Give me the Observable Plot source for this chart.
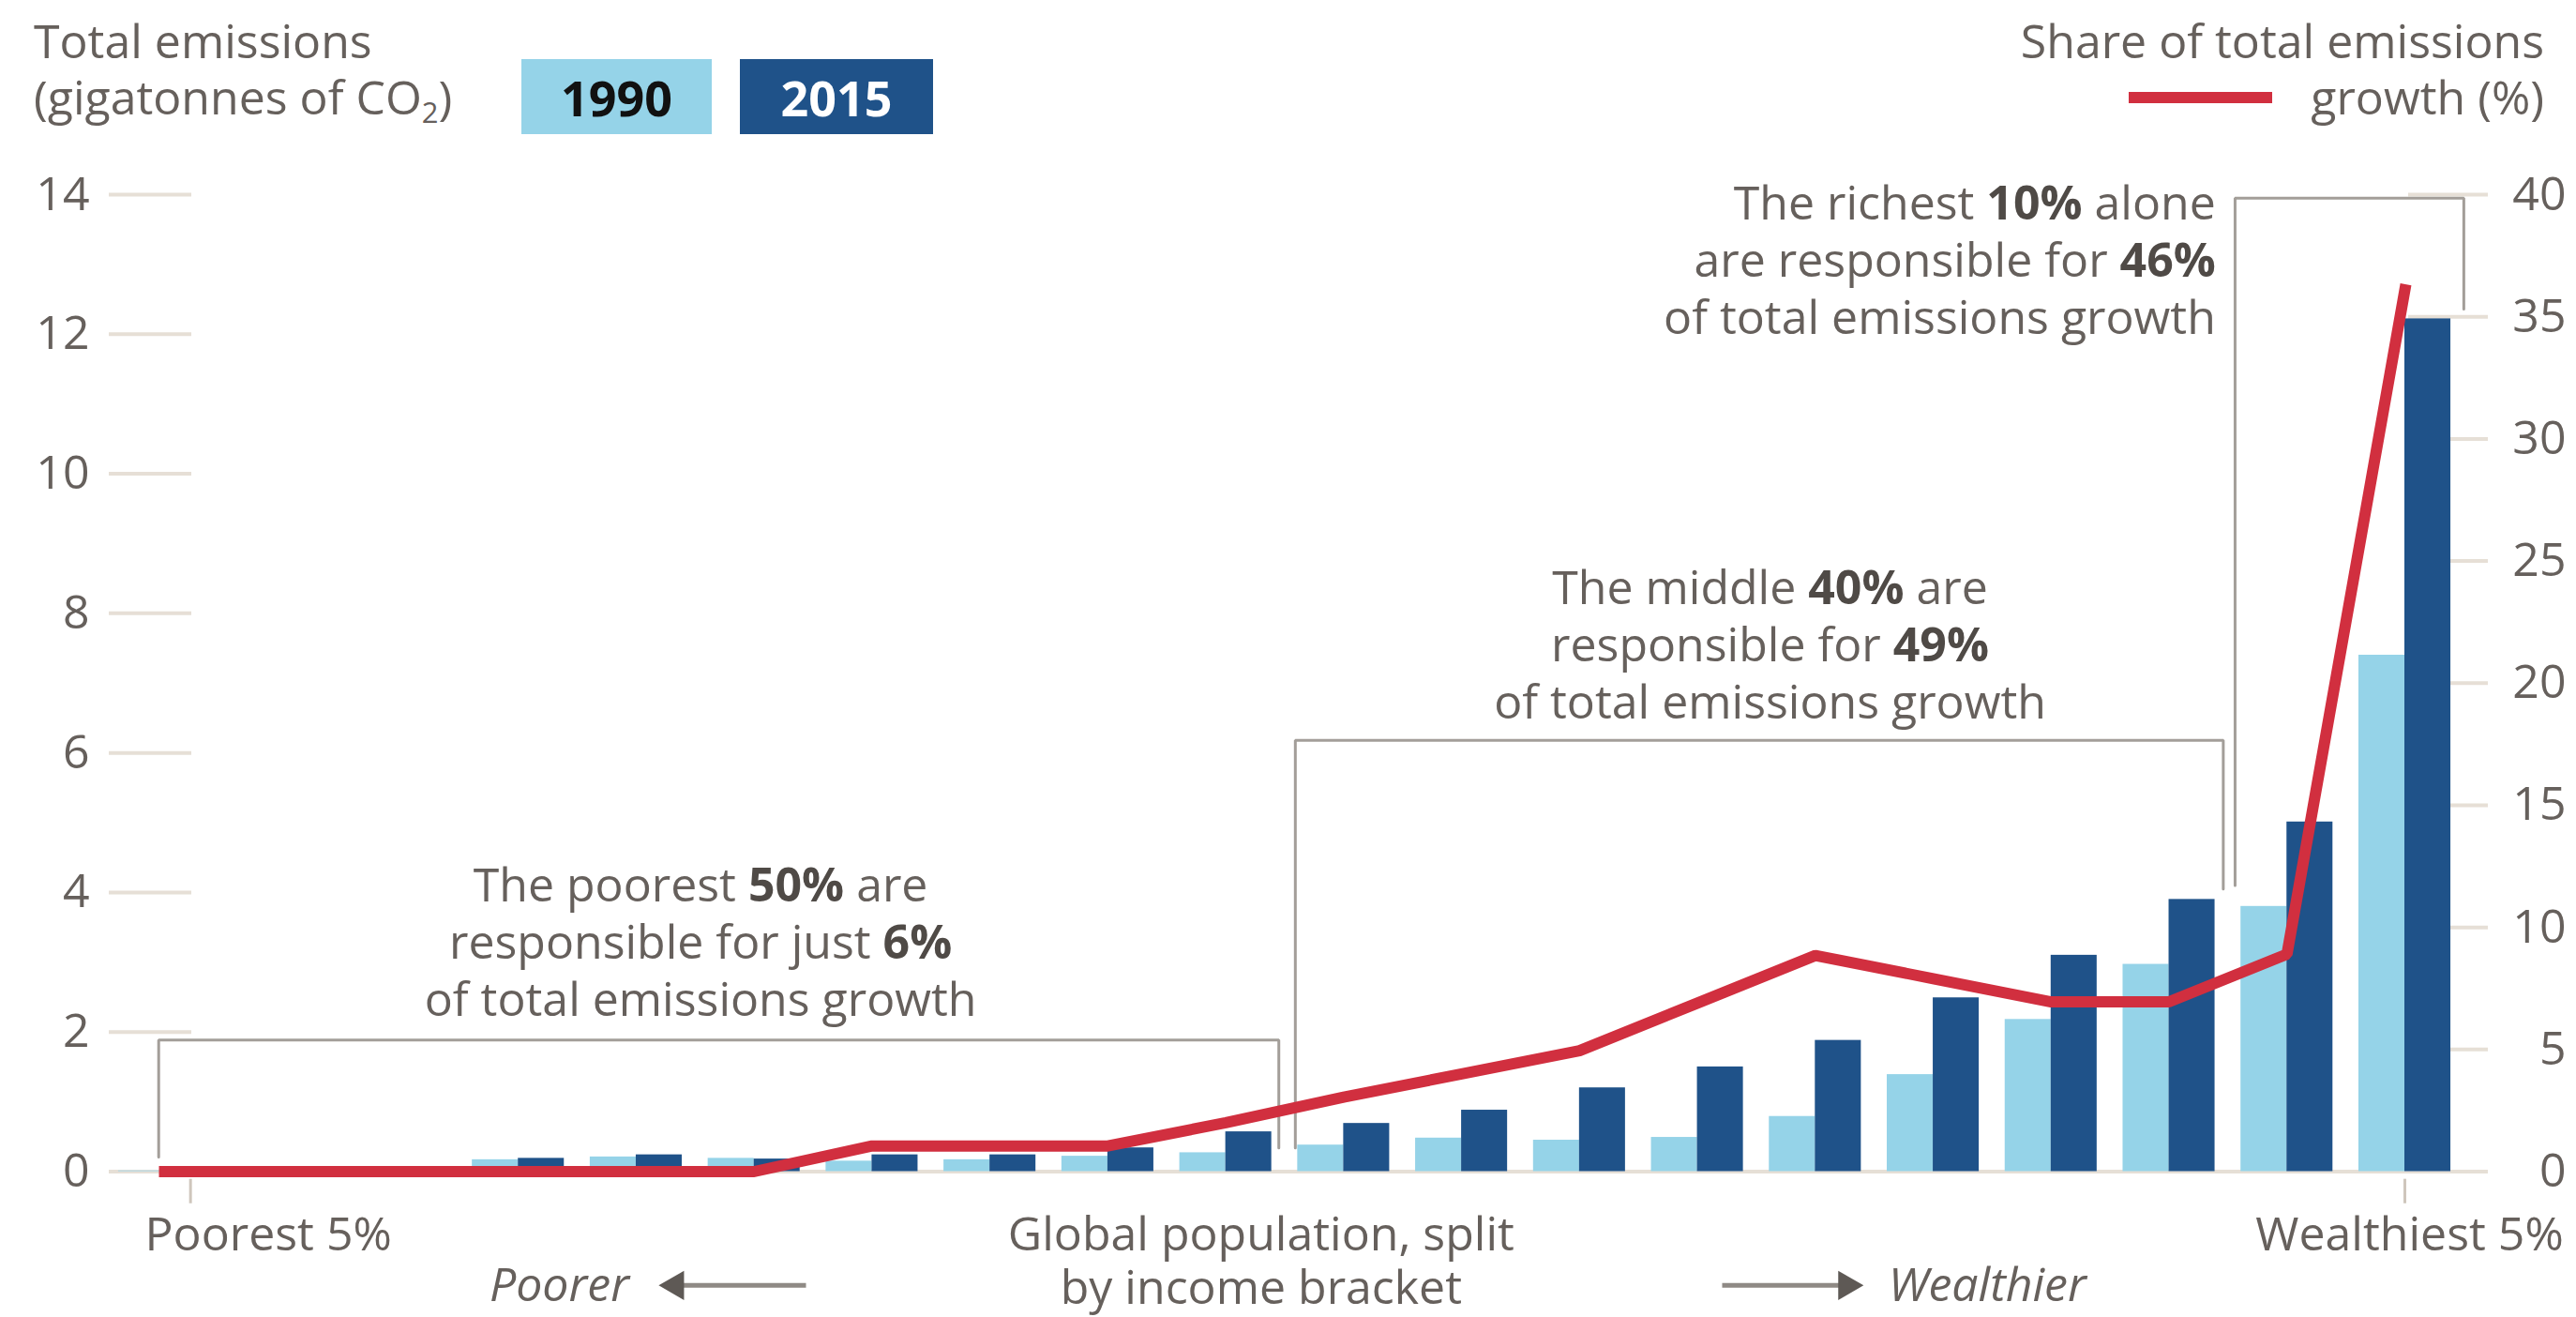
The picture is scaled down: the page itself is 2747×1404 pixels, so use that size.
<!DOCTYPE html>
<html><head><meta charset="utf-8">
<script src="https://cdn.jsdelivr.net/npm/d3@7"></script>
<script src="https://cdn.jsdelivr.net/npm/@observablehq/plot@0.6"></script>
<style>
html,body{margin:0;padding:0;background:#fff;}
#wrap{position:relative;width:2747px;height:1404px;overflow:hidden;font-family:"Open Sans",sans-serif;color:#66605c;}
#wrap svg{position:absolute;left:0;top:0;}
.hd{position:absolute;font-size:50px;line-height:60px;height:60px;white-space:nowrap;}
.box{position:absolute;top:63px;height:80px;display:flex;align-items:center;justify-content:center;font-weight:700;font-size:52px;}
sub{font-size:0.62em;line-height:0;vertical-align:-0.28em;}
</style></head><body><div id="wrap">
<div class="hd" style="left:36px;top:13px;">Total emissions</div>
<div class="hd" style="left:36px;top:73px;">(gigatonnes of CO<sub>2</sub>)</div>
<div class="box" style="left:556px;width:203px;background:#95d3e8;color:#111;">1990</div>
<div class="box" style="left:789px;width:206px;background:#1f5289;color:#fff;">2015</div>
<div class="hd" style="right:34px;top:13px;text-align:right;">Share of total emissions</div>
<div class="hd" style="right:34px;top:73px;text-align:right;">growth (%)</div>
<div style="position:absolute;left:2270px;top:98px;width:153px;height:12px;background:#d12f3f;"></div>
</div>
<script>
// ---- data ----
const percentiles = ["0–5%","5–10%","10–15%","15–20%","20–25%","25–30%","30–35%","35–40%","40–45%","45–50%",
  "50–55%","55–60%","60–65%","65–70%","70–75%","75–80%","80–85%","85–90%","90–95%","95–100%"];
const emissions1990 = [0.01,0.02,0.03,0.17,0.21,0.19,0.15,0.17,0.22,0.27,0.38,0.48,0.45,0.49,0.79,1.39,2.18,2.97,3.80,7.40];
const emissions2015 = [0.01,0.03,0.05,0.19,0.24,0.18,0.24,0.24,0.34,0.57,0.69,0.88,1.20,1.50,1.88,2.49,3.10,3.90,5.01,12.22];
const growthShare   = [0,0,0,0,0,0,1.05,1.05,1.05,2.0,3.05,4.0,4.95,6.9,8.85,7.9,6.95,6.95,8.9,36.1];
const leftTicks  = [0,2,4,6,8,10,12,14];
const rightTicks = [0,5,10,15,20,25,30,35,40];

// bracket groups (in percentile-group index units / gigatonnes)
const bracketFrom   = [-0.05, 9.59, 17.56];
const bracketTo     = [9.45, 17.46, 19.50];
const bracketTop    = [1.886, 6.18, 13.95];
const bracketFootA  = [0.21, 0.34, 4.10];
const bracketFootB  = [0.34, 4.05, 12.36];

const annotations = [
  {x: 4.55, y: 3.86, anchor: "middle", lines: [[{t:"The poorest "},{t:"50%",b:1},{t:" are"}],[{t:"responsible for just "},{t:"6%",b:1}],[{t:"of total emissions growth"}]]},
  {x: 13.62, y: 8.12, anchor: "middle", lines: [[{t:"The middle "},{t:"40%",b:1},{t:" are"}],[{t:"responsible for "},{t:"49%",b:1}],[{t:"of total emissions growth"}]]},
  {x: 17.40, y: 13.64, anchor: "end", lines: [[{t:"The richest "},{t:"10%",b:1},{t:" alone"}],[{t:"are responsible for "},{t:"46%",b:1}],[{t:"of total emissions growth"}]]}
];
const notesStart  = [{x: -0.167, y: -0.92, text: "Poorest 5%"}];
const notesMiddle = [{x: 19.04, y: -0.92, text: "Wealthiest 5%"}, {x: 9.30, y: -0.92, text: "Global population, split"}, {x: 9.30, y: -1.68, text: "by income bracket"}];
const notesItalicEnd   = [{x: 3.94, y: -1.64, text: "Poorer"}];
const notesItalicStart = [{x: 14.62, y: -1.64, text: "Wealthier"}];
const arrowsData = [
  {from: 5.44, to: 4.334, y: -1.63, dir: -90},
  {from: 13.21, to: 14.266, y: -1.63, dir: 90}
];
const axisMarkers = [0.22, 19];

// ---- build ----
const ink = "#66605c", inkBold = "#4f4a46";
const light = "#95d3e8", dark = "#1f5289", red = "#d12f3f";
const tickColor = "#e6dfd6", bracketColor = "#a39e99";
const k = 14 / 40;

const rows = percentiles.map((p, i) => ({i, p, e1990: emissions1990[i], e2015: emissions2015[i], share: growthShare[i]}));
const brackets = bracketFrom.flatMap((x0, j) => [
  {j, x: x0, y: bracketFootA[j]},
  {j, x: x0, y: bracketTop[j]},
  {j, x: bracketTo[j], y: bracketTop[j]},
  {j, x: bracketTo[j], y: bracketFootB[j]}
]);

function annotationMark(index, scales) {
  const g = d3.create("svg:g").attr("font-size", 50).attr("fill", ink);
  for (const a of annotations) {
    const X = scales.x(a.x), Y = scales.y(a.y);
    const t = g.append("text").attr("x", X).attr("y", Y).attr("text-anchor", a.anchor);
    a.lines.forEach((line, li) => {
      line.forEach((seg, si) => {
        const ts = t.append("tspan").text(seg.t);
        if (si === 0) ts.attr("x", X).attr("dy", li === 0 ? 0 : "1.22em");
        if (seg.b) ts.attr("font-weight", 700).attr("fill", inkBold);
      });
    });
  }
  return g.node();
}

const textOpts = {x: "x", y: "y", text: "text", lineAnchor: "middle", fontSize: 50, fill: ink};
const chart = Plot.plot({
  width: 2747, height: 1404,
  marginTop: 207, marginBottom: 155.5, marginLeft: 175, marginRight: 183,
  x: {domain: [0, 19], axis: null},
  y: {domain: [0, 14], axis: null},
  style: {fontFamily: "Open Sans", fontSize: "50px", color: ink, background: "transparent", overflow: "visible"},
  marks: [
    Plot.ruleY([0], {stroke: tickColor, strokeWidth: 4, insetLeft: -59, insetRight: -88}),
    Plot.axisY(leftTicks, {anchor: "left", tickFormat: d => String(d), tickSize: 88, dx: 29, tickPadding: 21, stroke: tickColor, strokeWidth: 4, fill: ink, fontSize: 50, label: null}),
    Plot.axisY(rightTicks.map(v => v * k), {anchor: "right", tickFormat: d => String(Math.round(d / k)), tickSize: 85, dx: 3, tickPadding: 84, textAnchor: "end", stroke: tickColor, strokeWidth: 4, fill: ink, fontSize: 50, label: null}),
    Plot.ruleX(axisMarkers, {y1: -0.11, y2: -0.46, stroke: "#cfc6bc", strokeWidth: 3}),
    Plot.rect(rows, {x1: d => d.i - 0.39, x2: "i", y1: 0, y2: "e1990", fill: light}),
    Plot.rect(rows, {x1: "i", x2: d => d.i + 0.39, y1: 0, y2: "e2015", fill: dark}),
    Plot.line(brackets, {x: "x", y: "y", z: "j", stroke: bracketColor, strokeWidth: 3, strokeLinejoin: "miter", curve: "linear"}),
    Plot.line(rows, {x: "i", y: d => d.share * k, stroke: red, strokeWidth: 12, strokeLinejoin: "miter", strokeLinecap: "square"}),
    annotationMark,
    Plot.text(notesStart, {...textOpts, textAnchor: "start"}),
    Plot.text(notesMiddle, {...textOpts, textAnchor: "middle"}),
    Plot.text(notesItalicEnd, {...textOpts, textAnchor: "end", fontStyle: "italic"}),
    Plot.text(notesItalicStart, {...textOpts, textAnchor: "start", fontStyle: "italic"}),
    Plot.link(arrowsData, {x1: "from", x2: "to", y1: "y", y2: "y", stroke: "#8f8a85", strokeWidth: 5}),
    Plot.dot(arrowsData, {x: "to", y: "y", symbol: "triangle", r: 11.6, rotate: "dir", fill: "#5e5955", stroke: "none"})
  ]
});
document.getElementById("wrap").prepend(chart);
</script></body></html>
